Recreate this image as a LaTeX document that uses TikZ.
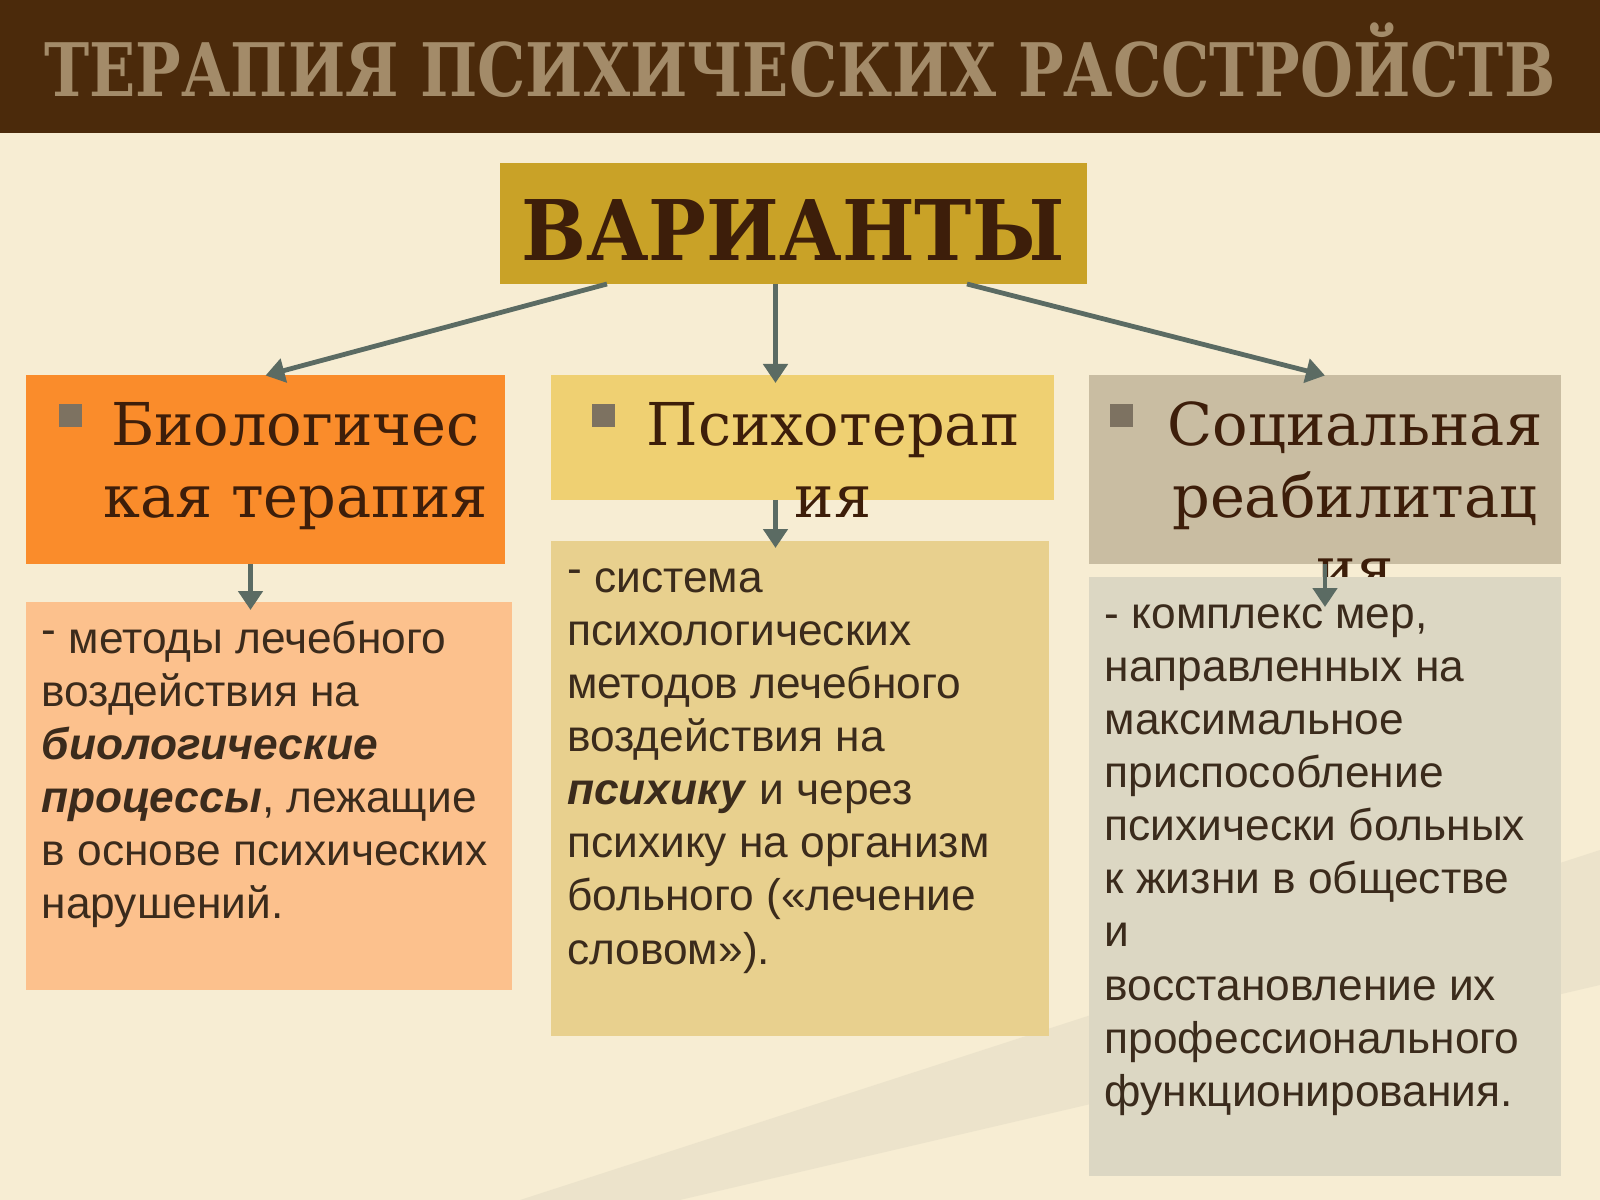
\documentclass[tikz,border=0pt]{standalone}
\usepackage{fontspec}
\setmainfont{DejaVu Serif}
\newfontfamily\bodyfont{Liberation Sans}
\usepackage{graphicx}
\usepackage{xcolor}
\usetikzlibrary{positioning,arrows.meta}

\definecolor{cream}{HTML}{F7EDD3}
\definecolor{streak}{HTML}{DDD6C0}
\definecolor{titlebrown}{HTML}{4B2A0B}
\definecolor{titletan}{HTML}{A38B69}
\definecolor{gold}{HTML}{C9A227}
\definecolor{bioorange}{HTML}{FA8C2B}
\definecolor{biopeach}{HTML}{FCC18D}
\definecolor{psygold}{HTML}{EFD072}
\definecolor{psysand}{HTML}{E8D08E}
\definecolor{socgrey}{HTML}{C9BDA2}
\definecolor{socpale}{HTML}{DCD7C3}
\definecolor{headbrown}{HTML}{3D1E0A}
\definecolor{bodybrown}{HTML}{3B2B1C}
\definecolor{bulletgrey}{HTML}{7D7261}
\definecolor{arrowgrey}{HTML}{5B6B63}

\tikzset{
  box/.style={rectangle, inner sep=0pt, outer sep=0pt, anchor=north west},
  bullet/.style={rectangle, fill=bulletgrey, minimum size=2.3mm, inner sep=0pt},
  headtext/.style={anchor=north, align=center, inner sep=0pt, text=headbrown,
    font=\fontsize{16.8pt}{20.5pt}\selectfont},
  bodytext/.style={anchor=north west, align=left, inner sep=0pt, text=bodybrown,
    font=\bodyfont\fontsize{12.6pt}{15.1pt}\selectfont},
  conn/.style={-{Triangle[width=2.4mm,length=1.9mm]}, line width=0.48mm, draw=arrowgrey}
}

\begin{document}
\begin{tikzpicture}[x=0.1mm,y=-0.1mm]
\useasboundingbox (0,0) rectangle (1600,1200);
\fill[cream] (0,0) rectangle (1600,1200);
\fill[streak, opacity=0.4] (520,1200) -- (680,1200) -- (1600,985) -- (1600,850) -- cycle;
\fill[titlebrown] (0,0) rectangle (1600,133);

\node (title) [anchor=base, text=titletan, font=\bfseries\fontsize{21pt}{25pt}\selectfont] at (800,97)
  {\scalebox{0.822}[1]{ТЕРАПИЯ ПСИХИЧЕСКИХ РАССТРОЙСТВ}};

\node (variants) [box, fill=gold, minimum width=58.7mm, minimum height=12.1mm] at (500,163) {};
\node (variantsLabel) [anchor=base, text=headbrown, font=\bfseries\fontsize{23.8pt}{28pt}\selectfont] at (793,260)
  {\scalebox{0.92}[1]{ВАРИАНТЫ}};

\node (biohead) [box, fill=bioorange, minimum width=48mm, minimum height=18.85mm] at (25.5,375.5) {};
\node (biobody) [box, fill=biopeach, minimum width=48.65mm, minimum height=38.8mm] at (25.5,602) {};
\node (psyhead) [box, fill=psygold, minimum width=50.3mm, minimum height=12.45mm] at (551,375.5) {};
\node (psybody) [box, fill=psysand, minimum width=49.8mm, minimum height=49.5mm] at (551,541) {};
\node (sochead) [box, fill=socgrey, minimum width=47.2mm, minimum height=18.85mm] at (1089,375.5) {};

\node (biobullet) [bullet] at (70.5,415) {};
\node (psybullet) [bullet] at (603,415) {};
\node (socbullet) [bullet] at (1121,415) {};

\node (biotitle) [headtext] at ([xshift=3mm,yshift=-1.9mm]biohead.north) {\strut Биологичес\\кая терапия};
\node (psytitle) [headtext] at ([xshift=3.05mm,yshift=-1.9mm]psyhead.north) {\strut Психотерап\\ия};
\node (soctitle) [headtext] at ([xshift=3mm,yshift=-1.9mm]sochead.north) {\strut Социальная\\реабилитац\\ия};

\node (socbody) [box, fill=socpale, minimum width=47.2mm, minimum height=59.9mm] at (1089,576.5) {};

\node (biotext) [bodytext] at ([xshift=1.55mm,yshift=-1.35mm]biobody.north west)
  {\strut\raisebox{0.2em}{-} методы лечебного\\воздействия на\\\textbf{\textit{биологические}}\\\textbf{\textit{процессы}}, лежащие\\в основе психических\\нарушений.};
\node (psytext) [bodytext] at ([xshift=1.55mm,yshift=-1.37mm]psybody.north west)
  {\strut\raisebox{0.2em}{-} система\\психологических\\методов лечебного\\воздействия на\\\textbf{\textit{психику}} и через\\психику на организм\\больного («лечение\\словом»).};
\node (soctext) [bodytext] at ([xshift=1.5mm,yshift=-1.42mm]socbody.north west)
  {\strut- комплекс мер,\\направленных на\\максимальное\\приспособление\\психически больных\\к жизни в обществе\\и\\восстановление их\\профессионального\\функционирования.};

\coordinate (vleft) at ([xshift=-18.65mm]variants.south);
\coordinate (vmid) at ([xshift=-1.8mm]variants.south);
\coordinate (vright) at ([xshift=17.35mm]variants.south);
\coordinate (biodrop) at ([xshift=-1.5mm]biohead.south);
\coordinate (psydrop) at (vmid |- psyhead.south);

\draw[conn] (vleft) -- (biohead.north);
\draw[conn] (vmid) -- ([yshift=-0.75mm]vmid |- psyhead.north);
\draw[conn] (vright) -- (sochead.north);
\draw[conn] (biodrop) -- ([yshift=-0.8mm]biodrop |- biobody.north);
\draw[conn] (psydrop) -- ([yshift=-0.7mm]psydrop |- psybody.north);
\draw[conn] (sochead.south) -- ([yshift=-3.05mm]socbody.north);
\end{tikzpicture}
\end{document}
